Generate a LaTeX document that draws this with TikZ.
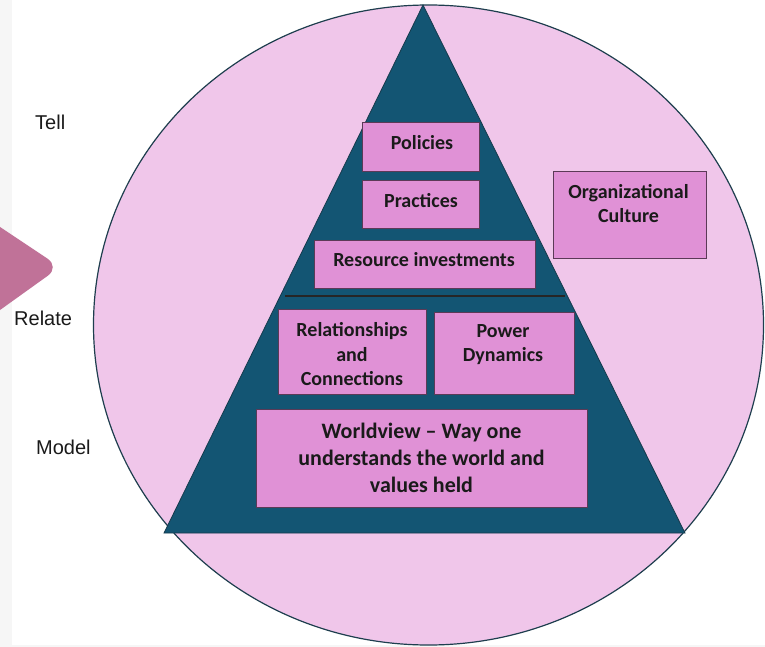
\documentclass[tikz,border=0pt]{standalone}
\usepackage{fontspec}
\setmainfont{Carlito}
\newfontfamily\labelfont{Liberation Sans}
\definecolor{circfill}{HTML}{F0C6EA}
\definecolor{circline}{HTML}{1E3E4E}
\definecolor{trifill}{HTML}{135573}
\definecolor{triline}{HTML}{163A4C}
\definecolor{boxfill}{HTML}{E091D6}
\definecolor{boxline}{HTML}{5B3A57}
\definecolor{chevfill}{HTML}{C07298}
\definecolor{stripgray}{HTML}{F6F6F6}
\definecolor{textdark}{HTML}{1A1A1A}
\begin{document}
\begin{tikzpicture}[x=1pt,y=-1pt,
  boxnode/.style={draw=boxline, line width=1pt, fill=boxfill, inner sep=0pt},
  boxtext/.style={font=\fontsize{20}{24.5}\selectfont\bfseries, text=textdark, align=center, inner sep=0pt},
  sidelabel/.style={font=\labelfont\fontsize{20}{24}\selectfont, text=textdark, inner sep=0pt, anchor=west}]
\useasboundingbox (0,0) rectangle (765,647);
\clip (0,0) rectangle (765,647);
\fill[white] (0,0) rectangle (765,647);
\fill[stripgray] (0,0) rectangle (12,647);
\fill[stripgray] (0,645) rectangle (765,647);
% chevron
\fill[chevfill, rounded corners=15pt] (-40,200.3) -- (60,267) -- (-40,338.7) -- cycle;
% circle
\draw[fill=circfill, draw=circline, line width=1.2pt] (428.5,325) ellipse [x radius=335, y radius=320];
% triangle
\coordinate (apex) at (423,5);
\coordinate (bl) at (164,533);
\coordinate (br) at (685,533);
\draw[fill=trifill, draw=triline, line width=0.8pt] (apex) -- (br) -- (bl) -- cycle;
% divider
\coordinate (divl) at (285,296);
\coordinate (divr) at (565,296);
\draw[line width=1.3pt, black!85] (divl) -- (divr);
% boxes
\node[boxnode, minimum width=116.7pt, minimum height=48.3pt] (pol) at (420.7,146.9) {};
\node[boxnode, minimum width=116.3pt, minimum height=48.7pt] (pra) at (420.9,204.4) {};
\node[boxnode, minimum width=221pt, minimum height=48.7pt] (res) at (424.8,264.4) {};
\node[boxnode, minimum width=148.4pt, minimum height=85pt] (rel) at (352.5,351.8) {};
\node[boxnode, minimum width=140.3pt, minimum height=81.6pt] (pow) at (504.2,353.5) {};
\node[boxnode, minimum width=330.6pt, minimum height=98.7pt] (wor) at (422,458.4) {};
\node[boxnode, minimum width=153pt, minimum height=86pt] (org) at (629.5,215) {};
% box texts
\node[boxtext] (polT) at (422,143) {Policies};
\node[boxtext] (praT) at (421,201) {Practices};
\node[boxtext] (resT) at (424,260) {Resource investments};
\node[boxtext] (relT) at (352,354.5) {Relationships\\and\\Connections};
\node[boxtext, font=\fontsize{20}{24}\selectfont\bfseries] (powT) at (503,345) {Power\\Dynamics};
\node[boxtext, font=\fontsize{22}{27}\selectfont\bfseries] (worT) at (421.5,458) {Worldview -- Way one\\understands the world and\\values held};
\node[boxtext, font=\fontsize{20}{24}\selectfont\bfseries] (orgT) at (628.5,204) {Organizational\\Culture};
% side labels
\node[sidelabel] (tell) at (35,122) {Tell};
\node[sidelabel] (relate) at (14,318) {Relate};
\node[sidelabel] (model) at (36,447) {Model};
\end{tikzpicture}
\end{document}
